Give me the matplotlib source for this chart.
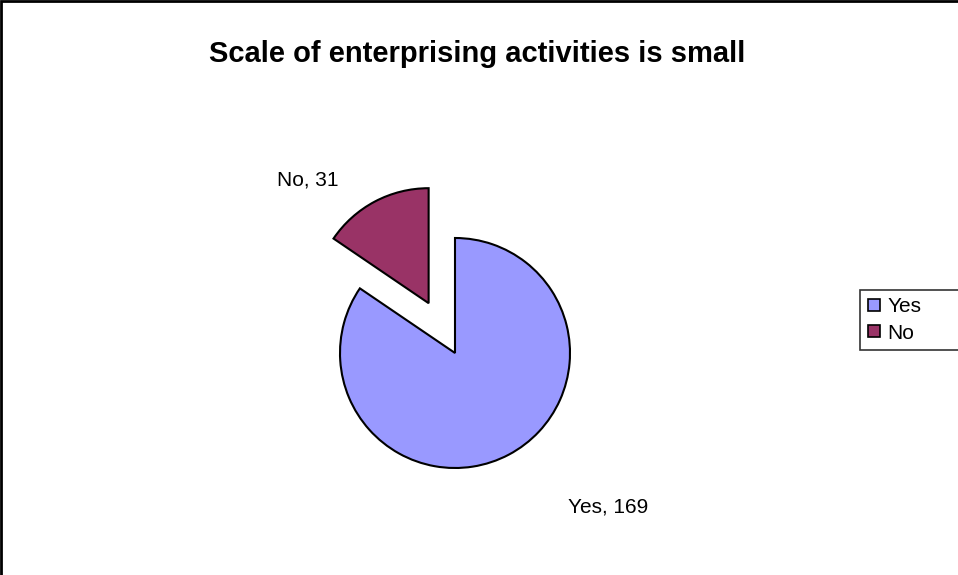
import matplotlib
matplotlib.use("Agg")
import matplotlib.pyplot as plt
from matplotlib.lines import Line2D
from matplotlib.patches import Rectangle

plt.rcParams['font.family'] = ['Liberation Sans', 'DejaVu Sans']

# Data
categories = ["Yes", "No"]
counts = [169, 31]
colors = ["#9999FF", "#993366"]
title = "Scale of enterprising activities is small"

W, H = 958, 575
fig = plt.figure(figsize=(W / 100, H / 100), dpi=100)
ax = fig.add_axes([0, 0, 1, 1])

# Chart area border
ax.add_patch(Rectangle((1, -20), W + 20, H - 1 + 20, fill=False,
                       edgecolor="black", linewidth=2, zorder=1))

cx, cy, r = 455, H - 353, 115
wedges, _ = ax.pie(counts, colors=colors, startangle=90, counterclock=False,
                   explode=[0, 0.49 * r], radius=r, center=(cx, cy),
                   wedgeprops=dict(edgecolor="black", linewidth=1.5),
                   frame=False)
ax.set_xlim(0, W)
ax.set_ylim(0, H)
ax.set_aspect("equal")
ax.axis("off")

ax.text(W / 2 - 2, H - 54, title, ha="center", va="center",
        fontsize=21, fontweight="bold")

# Data labels
label_pos = {"Yes": (568, H - 507), "No": (277, H - 180)}
for cat, val in zip(categories, counts):
    x, y = label_pos[cat]
    ax.text(x, y, f"{cat}, {val}", ha="left", va="center", fontsize=15)

# Legend box runs past the right edge of the chart area
handles = [Line2D([], [], marker="s", linestyle="none", markersize=8,
                  markerfacecolor=c, markeredgecolor="black",
                  markeredgewidth=1.2) for c in colors]
leg_h = 60 / H
leg = fig.legend(handles, categories, loc="upper left", mode="expand",
                 bbox_to_anchor=(860 / W, 1 - 290 / H - leg_h,
                                 (W + 30 - 860) / W, leg_h),
                 fontsize=15, frameon=True, fancybox=False,
                 handlelength=0.6, handletextpad=0.35, borderpad=0.35,
                 labelspacing=0.35, borderaxespad=0)
leg.get_frame().set_edgecolor("black")
leg.get_frame().set_linewidth(1.2)

fig.savefig("out.png", dpi=100, facecolor="white")
